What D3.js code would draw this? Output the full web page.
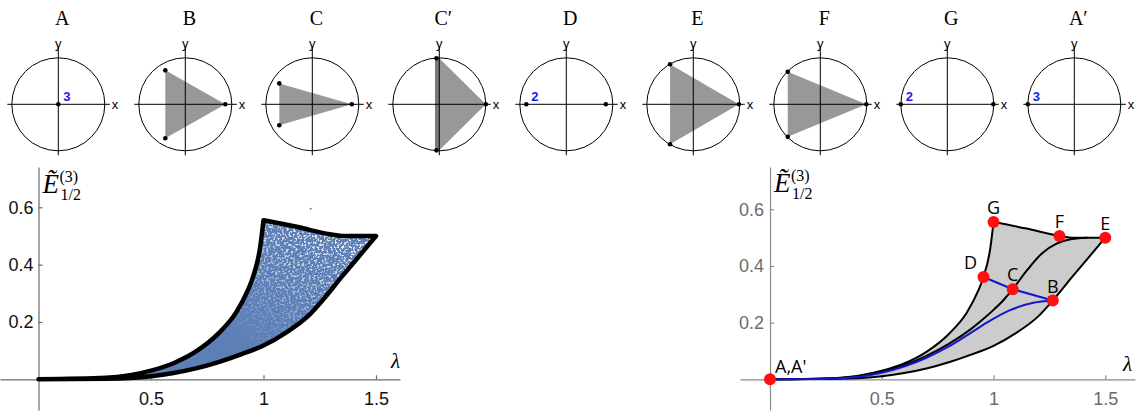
<!DOCTYPE html>
<html>
<head>
<meta charset="utf-8">
<script src="https://cdn.jsdelivr.net/npm/d3@7"></script>
<style>
  body { margin: 0; background: #fff; }
  svg { display: block; }
</style>
</head>
<body>
<svg></svg>
<script>
// ---- data ----
const panels = ['A', 'B', 'C', 'C\u2032', 'D', 'E', 'F', 'G', 'A\u2032'];
// particle positions on the unit circle for each panel
const panelDots = [
    [[0, 0]],
    [[0.86, 0], [-0.43, 0.73], [-0.43, -0.73]],
    [[0.85, 0], [-0.71, 0.45], [-0.71, -0.45]],
    [[1, 0], [-0.06, 0.99], [-0.06, -0.99]],
    [[-0.86, 0], [0.85, 0]],
    [[0.98, 0], [-0.5, 0.86], [-0.5, -0.86]],
    [[0.99, 0], [-0.7, 0.7], [-0.7, -0.7]],
    [[-1, 0], [0.99, 0]],
    [[-1, 0]]
];
// multiplicity labels: [panel, dot index, text]
const multLabels = [[0, 0, '3'], [4, 0, '2'], [7, 0, '2'], [8, 0, '3']];

const lowerBound = [[0, 0], [0.3, 0.002], [0.5, 0.011], [0.6, 0.022], [0.7, 0.038], [0.8, 0.06], [0.9, 0.087],
    [1.0, 0.118], [1.1, 0.163], [1.2, 0.222], [1.265, 0.278], [1.35, 0.36], [1.42, 0.425], [1.5, 0.5]];
const leftBound = [[0, 0], [0.3, 0.005], [0.5, 0.03], [0.6, 0.056], [0.7, 0.097], [0.8, 0.16], [0.88, 0.235],
    [0.93, 0.31], [0.955, 0.361], [0.985, 0.46], [1.0, 0.555]];
const topBound = [[1.0, 0.555], [1.148, 0.532], [1.295, 0.506], [1.36, 0.5], [1.5, 0.5]];
const midCurve = [[0, 0], [0.3, 0.004], [0.5, 0.027], [0.6, 0.05], [0.7, 0.083], [0.8, 0.125], [0.9, 0.178],
    [0.95, 0.21], [1.0, 0.245], [1.045, 0.28], [1.086, 0.318], [1.15, 0.385], [1.22, 0.447], [1.28, 0.478],
    [1.35, 0.495], [1.42, 0.5]];
const blueLow = [[0, 0], [0.3, 0.003], [0.5, 0.023], [0.6, 0.045], [0.7, 0.076], [0.8, 0.116], [0.9, 0.165],
    [0.97, 0.2], [1.074, 0.244], [1.178, 0.27], [1.265, 0.278]];
const blueTop = [[0.955, 0.361], [1.086, 0.318], [1.265, 0.278]];
const strayDots = [[1.21, 0.595]];

const keyNames = ['A,A\'', 'G', 'F', 'E', 'D', 'C', 'B'];
const keyPoints = [[0, 0], [1.0, 0.555], [1.295, 0.506], [1.5, 0.5], [0.955, 0.361], [1.086, 0.318], [1.265, 0.278]];

const xTicks = [0.5, 1, 1.5];
const yTicks = [0.2, 0.4, 0.6];

// ---- setup ----
const size = {w: 1139, h: 414};
const svg = d3.select('svg').attr('width', size.w).attr('height', size.h);
const defs = svg.append('defs');

// ---- top row: particle configurations ----
const R = 46.5;
const cy = 104.3;
const panelX = d3.scalePoint().domain(panels).range([58.3, 1074.3]);
const unit = d3.scaleLinear().domain([-1, 1]).range([-R, R]);

panels.forEach(function(name, i) {
    const g = svg.append('g').attr('transform', `translate(${panelX(name)},${cy})`);
    const pts = panelDots[i].map(d => [unit(d[0]), -unit(d[1])]);

    g.append('text')
        .attr('x', 4).attr('y', 25 - cy)
        .attr('text-anchor', 'middle')
        .style('font-family', '"Liberation Serif", serif')
        .style('font-size', '20px')
        .text(name);

    if (pts.length >= 3) {
        let poly = pts;
        if (name === 'C\u2032') poly = [pts[0], [0, pts[1][1]], [0, pts[2][1]]];
        g.append('polygon')
            .attr('points', poly.map(p => p.join(',')).join(' '))
            .attr('fill', '#989898');
        if (name === 'C\u2032') {
            g.append('rect')
                .attr('x', pts[1][0] - 1.5).attr('y', pts[1][1])
                .attr('width', -pts[1][0] + 1.5).attr('height', pts[2][1] - pts[1][1])
                .attr('fill', '#7a7a7a');
        }
    }

    g.append('circle').attr('r', R).attr('fill', 'none').attr('stroke', '#000').attr('stroke-width', 1);
    g.append('line').attr('x1', -51).attr('x2', 51.5).attr('y1', 0).attr('y2', 0).attr('stroke', '#000');
    g.append('line').attr('x1', 0).attr('x2', 0).attr('y1', -57.6).attr('y2', 51).attr('stroke', '#000');

    g.selectAll('circle.dot')
        .data(pts)
        .join('circle')
        .attr('class', 'dot')
        .attr('cx', d => d[0]).attr('cy', d => d[1])
        .attr('r', 2.3).attr('fill', '#000');

    g.append('text').attr('x', 53.5).attr('y', 4.2)
        .style('font-family', '"Liberation Sans", Arial, sans-serif').style('font-size', '13px')
        .text('x');
    g.append('text').attr('x', 0).attr('y', -56).attr('text-anchor', 'middle')
        .style('font-family', '"Liberation Sans", Arial, sans-serif').style('font-size', '13px')
        .text('y');
});

multLabels.forEach(function(m) {
    const name = panels[m[0]];
    const d = panelDots[m[0]][m[1]];
    svg.append('text')
        .attr('x', panelX(name) + unit(d[0]) + 5)
        .attr('y', cy - unit(d[1]) - 3.6)
        .attr('fill', '#1a1aee')
        .style('font-family', '"Liberation Sans", Arial, sans-serif')
        .style('font-size', '13px').style('font-weight', 'bold')
        .text(m[2]);
});

// ---- bottom charts ----
const line = d3.line().curve(d3.curveMonotoneX);

function regionPath(x, y) {
    const l = lowerBound.map(d => [x(d[0]), y(d[1])]);
    const t = topBound.slice().reverse().map(d => [x(d[0]), y(d[1])]);
    const lb = leftBound.slice().reverse().map(d => [x(d[0]), y(d[1])]);
    return line(l) + line(t).replace(/^M/, 'L') + line(lb).replace(/^M/, 'L') + 'Z';
}

function drawAxes(x, y, opt) {
    const g = svg.append('g');
    const xFull = x.copy().domain([x.invert(opt.x0), x.invert(opt.x1)]).range([opt.x0, opt.x1]);
    const yFull = y.copy().domain([y.invert(opt.y1), y.invert(opt.y0)]).range([opt.y1, opt.y0]);

    g.append('g')
        .attr('transform', `translate(0,${y(0)})`)
        .call(d3.axisBottom(xFull).tickValues(xTicks).tickFormat(d3.format('')).tickSize(-4).tickSizeOuter(0).tickPadding(13));
    g.append('g')
        .attr('transform', `translate(${x(0)},0)`)
        .call(d3.axisLeft(yFull).tickValues(yTicks).tickFormat(d3.format('.1f')).tickSize(-4).tickSizeOuter(0).tickPadding(opt.pad));

    g.selectAll('.domain, .tick line').attr('stroke', opt.axisColor).attr('stroke-width', 1.2);
    g.selectAll('.tick text')
        .attr('fill', opt.textColor)
        .style('font-family', '"Liberation Sans", Arial, sans-serif')
        .style('font-size', '18px');

    // axis labels
    const lab = svg.append('g').style('font-family', '"Liberation Serif", serif');
    lab.append('text').attr('x', x(0) + 4).attr('y', opt.eBase)
        .style('font-style', 'italic').style('font-size', '27px').text('\u1EBC');
    lab.append('text').attr('x', x(0) + 21).attr('y', opt.eBase - 11)
        .style('font-size', '16px').text('(3)');
    lab.append('text').attr('x', x(0) + 22).attr('y', opt.eBase + 7)
        .style('font-size', '16px').text('1/2');
    lab.append('text').attr('x', opt.lamX).attr('y', opt.lamY)
        .style('font-style', 'italic').style('font-size', '21px').text('\u03BB');
}

// left chart: sampled region
const x1 = d3.scaleLinear().domain([0, 1.5]).range([38.5, 376]);
const y1 = d3.scaleLinear().domain([0, 0.6]).range([379.3, 207.3]);

// white speckle that grows toward the upper right of the sampled region
const grad = defs.append('linearGradient').attr('id', 'fade')
    .attr('gradientUnits', 'userSpaceOnUse')
    .attr('x1', x1(0.9)).attr('y1', y1(0.12))
    .attr('x2', x1(1.3)).attr('y2', y1(0.56));
grad.append('stop').attr('offset', 0).attr('stop-color', '#fff').attr('stop-opacity', 0);
grad.append('stop').attr('offset', 0.35).attr('stop-color', '#fff').attr('stop-opacity', 0.35);
grad.append('stop').attr('offset', 1).attr('stop-color', '#fff').attr('stop-opacity', 1);

const speck = defs.append('filter').attr('id', 'speck')
    .attr('x', 0).attr('y', 0).attr('width', 1).attr('height', 1);
speck.append('feTurbulence').attr('type', 'fractalNoise').attr('baseFrequency', 0.45)
    .attr('numOctaves', 2).attr('seed', 7).attr('result', 'noise');
speck.append('feColorMatrix').attr('in', 'noise').attr('type', 'matrix')
    .attr('values', '0 0 0 0 1  0 0 0 0 1  0 0 0 0 1  7 0 0 0 -3.6').attr('result', 'dots');
speck.append('feComposite').attr('in', 'dots').attr('in2', 'SourceGraphic')
    .attr('operator', 'arithmetic').attr('k1', 1).attr('k2', 0).attr('k3', 0).attr('k4', 0);

const clip = defs.append('clipPath').attr('id', 'regionClip');
clip.append('path').attr('d', regionPath(x1, y1));

drawAxes(x1, y1, {x0: 0, x1: 400, y0: 410, y1: 167, pad: 5, axisColor: '#6a6a6a', textColor: '#111',
    eBase: 193, lamX: 391, lamY: 368});

svg.append('path')
    .attr('d', regionPath(x1, y1))
    .attr('fill', '#5b7fb6');

svg.append('rect')
    .attr('x', x1(0.6)).attr('y', y1(0.6))
    .attr('width', x1(1.55) - x1(0.6)).attr('height', y1(0) - y1(0.6))
    .attr('fill', 'url(#fade)')
    .attr('filter', 'url(#speck)')
    .attr('clip-path', 'url(#regionClip)');

svg.append('path')
    .attr('d', regionPath(x1, y1))
    .attr('fill', 'none')
    .attr('stroke', '#000').attr('stroke-width', 4.5).attr('stroke-linejoin', 'round');

svg.selectAll('circle.stray')
    .data(strayDots)
    .join('circle')
    .attr('class', 'stray')
    .attr('cx', d => x1(d[0])).attr('cy', d => y1(d[1]))
    .attr('r', 1).attr('fill', '#5b7fb6');

// right chart: special configurations
const x2 = d3.scaleLinear().domain([0, 1.5]).range([770, 1105.3]);
const y2 = d3.scaleLinear().domain([0, 0.6]).range([379.3, 209.3]);

drawAxes(x2, y2, {x0: 740, x1: 1135, y0: 410, y1: 167, pad: 6, axisColor: '#8a8a8a', textColor: '#6b6b6b',
    eBase: 191.5, lamX: 1123, lamY: 371});

svg.append('path')
    .attr('d', regionPath(x2, y2))
    .attr('fill', '#cccccc').attr('stroke', 'none');

const toPx = d => [x2(d[0]), y2(d[1])];
[lowerBound, leftBound, topBound, midCurve].forEach(function(c) {
    svg.append('path').attr('d', line(c.map(toPx)))
        .attr('fill', 'none').attr('stroke', '#000').attr('stroke-width', 2);
});
svg.append('path').attr('d', line(blueLow.map(toPx)))
    .attr('fill', 'none').attr('stroke', '#1515cc').attr('stroke-width', 2);
svg.append('path').attr('d', d3.line()(blueTop.map(toPx)))
    .attr('fill', 'none').attr('stroke', '#1515cc').attr('stroke-width', 2);

svg.selectAll('circle.key')
    .data(keyPoints)
    .join('circle')
    .attr('class', 'key')
    .attr('cx', d => x2(d[0])).attr('cy', d => y2(d[1]))
    .attr('r', 6).attr('fill', '#ff1010');

svg.selectAll('text.key')
    .data(keyNames)
    .join('text')
    .attr('class', 'key')
    .attr('x', (d, i) => x2(keyPoints[i][0]) + (i === 0 ? 5 : i === 4 ? -13 : 0))
    .attr('y', (d, i) => y2(keyPoints[i][1]) - (i === 0 ? 6 : 7.8))
    .attr('text-anchor', (d, i) => i === 0 ? 'start' : 'middle')
    .style('font-family', '"Open Sans", sans-serif')
    .style('font-size', '18px')
    .text(d => d);
</script>
</body>
</html>
